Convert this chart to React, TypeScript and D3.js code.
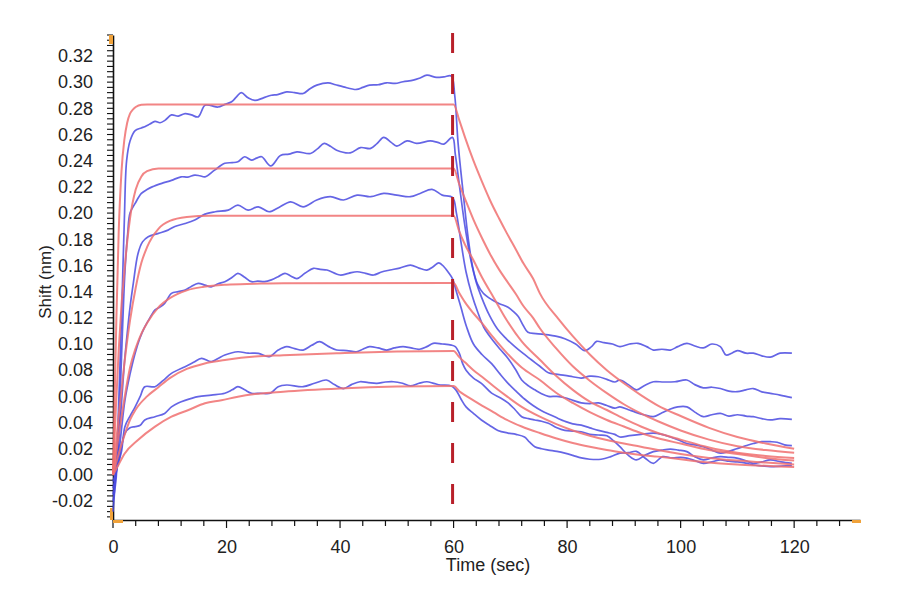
import React, {FC, useEffect, useRef} from 'react';
import * as d3 from 'd3';

type Pt = [number, number];

const blue1: Pt[] = [
  [0, -0.028], [0.4, -0.005], [0.8, 0.03], [1.2, 0.08], [1.6, 0.135], [2.0, 0.195], [2.4, 0.24], [3, 0.255],
  [3.9, 0.263], [5, 0.265], [5.6, 0.266], [6.5, 0.268], [7.4, 0.27], [8.3, 0.269], [9.2, 0.271], [10.3, 0.275],
  [11.5, 0.274], [12.7, 0.276], [13.8, 0.275], [15, 0.2735], [16.2, 0.2824], [17.3, 0.282], [18.5, 0.281],
  [19.7, 0.283], [20.9, 0.285], [21.8, 0.289], [22.6, 0.292], [23.8, 0.288], [25, 0.286], [26.5, 0.288],
  [27.9, 0.29], [29, 0.2905], [30.6, 0.2926], [32, 0.292], [33.5, 0.2913], [34.7, 0.295], [35.9, 0.2977],
  [37.9, 0.2995], [39.2, 0.298], [40.6, 0.2964], [42.9, 0.2944], [44, 0.296], [45.2, 0.2977], [46.7, 0.298],
  [48.2, 0.2995], [49.7, 0.299], [51.1, 0.3003], [52.9, 0.3015], [54, 0.303], [55.3, 0.3053], [57, 0.3036],
  [58.3, 0.304], [59.6, 0.3046],
  [60.2, 0.29], [60.8, 0.253], [61.7, 0.215], [62.6, 0.18], [63.4, 0.158], [64.2, 0.146], [65.2, 0.139],
  [66.7, 0.134], [68, 0.131], [69.6, 0.128], [70.5, 0.125], [71.4, 0.121], [72.3, 0.114], [73.1, 0.109],
  [74.5, 0.108], [76.7, 0.107], [78, 0.106], [79.6, 0.104], [81.5, 0.1], [83.1, 0.095], [84.3, 0.098],
  [85.2, 0.102], [86.5, 0.101], [88, 0.1], [89.3, 0.098], [91, 0.1], [92.5, 0.1005], [94, 0.098],
  [95.2, 0.0954], [96.7, 0.096], [98.2, 0.0954], [99.5, 0.098], [101.1, 0.1005], [102.5, 0.0985], [104, 0.097],
  [105.5, 0.1], [107, 0.098], [108, 0.0916], [109, 0.093], [110, 0.095], [111.5, 0.093], [112.8, 0.093],
  [114.3, 0.091], [115.8, 0.09], [117.5, 0.093], [119.6, 0.093],
];

const blue2: Pt[] = [
  [0, -0.02], [0.5, -0.005], [1, 0.03], [1.5, 0.09], [2.1, 0.155], [2.6, 0.185], [3, 0.2], [3.9, 0.2074],
  [5, 0.215], [6, 0.218], [6.9, 0.22], [8.6, 0.2227], [10.3, 0.225], [12, 0.2277], [13.2, 0.2275],
  [14.4, 0.229], [15.3, 0.2285], [16.2, 0.2277], [17.9, 0.2328], [19.7, 0.238], [21, 0.2385], [22, 0.2392],
  [23.2, 0.243], [24.4, 0.2405], [25.3, 0.242], [26.2, 0.243], [27.8, 0.236], [29.5, 0.244], [31, 0.245],
  [32.4, 0.2468], [34.8, 0.2455], [36, 0.249], [37.2, 0.2532], [38.3, 0.251], [39.4, 0.248], [41.8, 0.246],
  [43.6, 0.25], [45.4, 0.2494], [46.5, 0.253], [47.7, 0.2578], [49, 0.254], [50, 0.2511], [51.8, 0.2552],
  [53.5, 0.2532], [55.9, 0.2552], [57.2, 0.254], [58.3, 0.2527], [59.8, 0.2578],
  [60.3, 0.245], [61, 0.222], [62, 0.19], [63, 0.165], [64, 0.147], [64.9, 0.136], [66.3, 0.122],
  [67.8, 0.111], [69.3, 0.104], [70.8, 0.098], [72.2, 0.093], [73.7, 0.088], [75.2, 0.083], [76.7, 0.078],
  [78, 0.077], [79.6, 0.076], [81, 0.075], [82.5, 0.074], [84, 0.0755], [85.5, 0.075], [87, 0.073],
  [88.4, 0.071], [89.3, 0.0725], [90.8, 0.069], [92.2, 0.065], [93.5, 0.068], [95.2, 0.0712], [97, 0.071],
  [99, 0.0712], [101.1, 0.0725], [102.5, 0.069], [104, 0.0665], [105.5, 0.067], [107, 0.066], [108.5, 0.064],
  [110, 0.0636], [111.5, 0.065], [112.8, 0.066], [114.3, 0.0635], [115.8, 0.0623], [117.5, 0.061],
  [119.6, 0.059],
];

const blue3: Pt[] = [
  [0, -0.015], [0.5, 0.0], [1, 0.025], [1.5, 0.055], [2, 0.085], [2.5, 0.108], [3, 0.128], [3.6, 0.147],
  [4.4, 0.169], [5.2, 0.178], [6.2, 0.182], [8, 0.1845], [9.7, 0.187], [10.9, 0.1898], [12.7, 0.192],
  [14.4, 0.1947], [16.2, 0.1992], [18, 0.201], [20.3, 0.2023], [22, 0.206], [23.8, 0.2023], [25.6, 0.2048],
  [27.5, 0.201], [29.3, 0.2045], [31.3, 0.2086], [33.5, 0.2048], [35.9, 0.21], [38.3, 0.2125], [40.6, 0.21],
  [43, 0.2137], [45.4, 0.2125], [47.7, 0.215], [50, 0.2137], [52.4, 0.2125], [54.1, 0.215], [56.2, 0.2181],
  [58, 0.2137], [59.8, 0.212],
  [60.5, 0.2], [61.3, 0.178], [62.2, 0.155], [63.2, 0.138], [64.2, 0.125], [65.3, 0.113], [66.7, 0.104],
  [68.2, 0.096], [69.6, 0.089], [71, 0.08], [72, 0.0725], [73.2, 0.068], [74.3, 0.065], [75.5, 0.062],
  [76.7, 0.06], [78.2, 0.06], [79.6, 0.059], [81, 0.057], [82.5, 0.055], [84, 0.0545], [85.5, 0.055],
  [87, 0.053], [88.4, 0.051], [89.3, 0.052], [90.7, 0.05], [92, 0.048], [93.5, 0.046], [95.2, 0.0445],
  [96.5, 0.047], [98, 0.05], [99.5, 0.052], [101.1, 0.052], [102.5, 0.048], [104, 0.0445], [105.5, 0.046],
  [107, 0.047], [108.5, 0.045], [110, 0.046], [111.5, 0.045], [112.8, 0.0445], [114.3, 0.043], [115.8, 0.042],
  [117.5, 0.043], [119.6, 0.0425],
];

const blue4: Pt[] = [
  [0, -0.01], [0.5, 0.0], [1, 0.015], [1.5, 0.035], [2.1, 0.057], [3, 0.077], [3.9, 0.093], [4.7, 0.104],
  [5.6, 0.113], [6.5, 0.12], [7.4, 0.126], [8.2, 0.128], [9.1, 0.131], [10.3, 0.1387], [11.5, 0.14],
  [12.7, 0.1412], [13.8, 0.144], [15, 0.1463], [16.2, 0.145], [17.3, 0.1437], [18.5, 0.146], [19.7, 0.1476],
  [21, 0.151], [22, 0.154], [23.2, 0.151], [24.4, 0.1476], [25.5, 0.148], [26.7, 0.1476], [27.9, 0.149],
  [29.1, 0.1514], [30.3, 0.154], [31.3, 0.152], [32.4, 0.15], [33.8, 0.154], [35.3, 0.1578], [36.5, 0.157],
  [37.7, 0.1565], [40, 0.1527], [41.5, 0.154], [43, 0.1552], [44.5, 0.154], [45.9, 0.1527], [47.3, 0.155],
  [48.8, 0.1565], [50.5, 0.158], [52.4, 0.1603], [53.9, 0.158], [55.3, 0.1565], [56.4, 0.159], [57.4, 0.162],
  [58.3, 0.159], [59.2, 0.154], [59.8, 0.15],
  [60.5, 0.14], [61.3, 0.128], [62.3, 0.113], [63.5, 0.1], [65, 0.092], [66.7, 0.085], [68.2, 0.077],
  [69.6, 0.07], [71, 0.064], [72.5, 0.058], [74, 0.053], [75.5, 0.049], [77, 0.046], [78.5, 0.043],
  [79.6, 0.041], [81, 0.039], [82.5, 0.038], [84, 0.036], [85.5, 0.034], [87, 0.0325], [88.4, 0.031],
  [89.3, 0.029], [91, 0.03], [93, 0.031], [95.2, 0.032], [96.7, 0.031], [98.2, 0.029], [99.5, 0.027],
  [101.1, 0.024], [102.5, 0.023], [104, 0.0215], [105.5, 0.019], [107, 0.0167], [108.5, 0.018], [109.9, 0.02],
  [111.3, 0.022], [112.8, 0.024], [114.3, 0.0254], [115.8, 0.0254], [117, 0.025], [118.3, 0.023],
  [119.6, 0.0224],
];

const blue5: Pt[] = [
  [0, -0.005], [0.5, 0.002], [1, 0.01], [1.5, 0.018], [2.1, 0.0369], [3, 0.045], [3.9, 0.052], [4.8, 0.06],
  [5.6, 0.0674], [7.4, 0.0674], [8.8, 0.072], [10.3, 0.0776], [12.7, 0.0827], [14.2, 0.086], [15.6, 0.089],
  [17.3, 0.0865], [18.5, 0.089], [19.7, 0.0916], [22, 0.0941], [23.8, 0.093], [25.6, 0.0929], [27.5, 0.0903],
  [29.1, 0.0954], [30.6, 0.098], [32, 0.0965], [33.5, 0.0954], [35, 0.099], [36.4, 0.1018], [38, 0.098],
  [39.4, 0.0954], [41.2, 0.095], [42.9, 0.0941], [44, 0.096], [45.2, 0.098], [46.7, 0.097], [48.2, 0.0954],
  [49.6, 0.097], [51.1, 0.098], [52.5, 0.097], [54, 0.096], [55.3, 0.098], [56.4, 0.1005], [58, 0.1],
  [59.6, 0.0992],
  [60.3, 0.098], [61, 0.093], [61.6, 0.085], [62.2, 0.08], [63.5, 0.074], [64.9, 0.07], [66.7, 0.0625],
  [68.2, 0.059], [69.6, 0.055], [70.8, 0.05], [72, 0.0445], [73.2, 0.043], [74.3, 0.042], [75.5, 0.041],
  [76.7, 0.0395], [78.2, 0.036], [79.6, 0.034], [81, 0.0335], [82.5, 0.033], [84, 0.031], [85.5, 0.0305],
  [87, 0.03], [88.2, 0.026], [89.3, 0.0216], [90.8, 0.015], [92.2, 0.0115], [93.7, 0.015], [95.2, 0.0178],
  [96.7, 0.019], [98.2, 0.0198], [99.6, 0.019], [101.1, 0.0178], [102.5, 0.014], [104, 0.0115], [105.5, 0.013],
  [107, 0.014], [108.5, 0.0135], [109.9, 0.0128], [111.4, 0.011], [112.8, 0.0089], [114.3, 0.01],
  [115.8, 0.0115], [117.7, 0.01], [119.6, 0.0089],
];

const blue6: Pt[] = [
  [0, 0.0], [0.5, 0.004], [1, 0.01], [1.5, 0.0216], [2.1, 0.0318], [3, 0.036], [3.9, 0.0369], [4.8, 0.038],
  [5.6, 0.042], [7.4, 0.0445], [9.1, 0.047], [10.3, 0.052], [11.5, 0.055], [12.7, 0.057], [15, 0.0598],
  [17.3, 0.061], [19.7, 0.0624], [21, 0.065], [22, 0.0674], [23.2, 0.065], [24.4, 0.0624], [26, 0.0624],
  [27.7, 0.0624], [29.1, 0.0674], [30.6, 0.0687], [33.5, 0.0674], [35.5, 0.07], [37.6, 0.0725], [39, 0.069],
  [40.6, 0.066], [42, 0.069], [43.5, 0.0712], [45, 0.0705], [46.5, 0.07], [48, 0.071], [49.4, 0.0712],
  [51, 0.07], [52.4, 0.068], [53.9, 0.07], [55.3, 0.0712], [56.5, 0.07], [57.7, 0.0687], [59.6, 0.068],
  [60.4, 0.065], [61.3, 0.058], [62.2, 0.052], [63.5, 0.047], [64.9, 0.042], [66.3, 0.038], [67.8, 0.034],
  [69.6, 0.032], [71, 0.031], [72.5, 0.029], [73.4, 0.025], [74.3, 0.0216], [75.5, 0.02], [76.7, 0.019],
  [78.2, 0.018], [79.6, 0.0167], [81, 0.015], [82.5, 0.013], [84, 0.012], [86, 0.012], [87.7, 0.014],
  [89.3, 0.0167], [90.8, 0.017], [92.2, 0.018], [93.7, 0.013], [95.2, 0.0089], [96.8, 0.014], [98.5, 0.013],
  [100, 0.0135], [101.1, 0.0128], [102.5, 0.011], [104, 0.0089], [105.5, 0.01], [107, 0.0115], [108.5, 0.0105],
  [110, 0.01], [111.5, 0.009], [112.8, 0.0076], [114.3, 0.007], [115.8, 0.0064], [117.7, 0.0068],
  [119.6, 0.0072],
];

// fitted curves
const red1: Pt[] = [
  [0, 0], [0.3, 0.06], [0.6, 0.12], [1, 0.185], [1.5, 0.232], [2, 0.256], [2.5, 0.269], [3, 0.276],
  [3.5, 0.279], [4, 0.281], [5, 0.2828], [6, 0.283], [60, 0.283],
  [61, 0.271], [62, 0.258], [63.5, 0.24], [65, 0.224], [66.4, 0.21], [68, 0.196], [69.4, 0.1845], [71, 0.172],
  [72.3, 0.1616], [74, 0.15], [75.2, 0.1387], [78.5, 0.119], [81, 0.106], [84, 0.092], [87, 0.08], [90, 0.07],
  [93, 0.061], [96, 0.053], [100, 0.045], [105, 0.036], [110, 0.029], [115, 0.024], [120, 0.02],
];
const red2: Pt[] = [
  [0, 0], [0.5, 0.05], [1, 0.095], [1.5, 0.13], [2, 0.155], [2.5, 0.178], [3, 0.196], [4, 0.218], [5, 0.228],
  [6, 0.232], [8, 0.234], [60, 0.234],
  [61, 0.222], [62, 0.211], [63.5, 0.195], [65, 0.181], [66.4, 0.169], [68, 0.157], [69.4, 0.148], [71, 0.138],
  [72.3, 0.129], [74, 0.12], [75.2, 0.112], [78, 0.097], [81, 0.083], [84, 0.072], [87, 0.0625], [90, 0.054],
  [93, 0.047], [96, 0.041], [100, 0.034], [105, 0.027], [110, 0.022], [115, 0.019], [120, 0.017],
];
const red3: Pt[] = [
  [0, 0], [1, 0.045], [2, 0.085], [3, 0.118], [4, 0.143], [5, 0.162], [6, 0.174], [8, 0.188], [10, 0.194],
  [13, 0.197], [17, 0.198], [60, 0.198],
  [61, 0.186], [62, 0.176], [63.5, 0.164], [65, 0.151], [67, 0.136], [69.4, 0.118], [72, 0.102], [75.2, 0.088],
  [78, 0.076], [81, 0.065], [84, 0.056], [87, 0.0496], [90, 0.043], [93, 0.037], [96, 0.032], [100, 0.027],
  [105, 0.021], [110, 0.017], [115, 0.0145], [120, 0.013],
];
const red4: Pt[] = [
  [0, 0], [1, 0.03], [2, 0.058], [3, 0.082], [4, 0.097], [5, 0.108], [6, 0.116], [8, 0.128], [10, 0.135],
  [13, 0.141], [16, 0.1437], [20, 0.1453], [25, 0.146], [30, 0.1465], [60, 0.1466],
  [61, 0.139], [62, 0.132], [63.5, 0.1235], [65, 0.116], [67, 0.105], [69.4, 0.093], [72, 0.082],
  [75.2, 0.0725], [78, 0.063], [81, 0.055], [84, 0.048], [87, 0.042], [90, 0.037], [93, 0.032], [96, 0.028],
  [100, 0.024], [105, 0.019], [110, 0.016], [115, 0.013], [120, 0.011],
];
const red5: Pt[] = [
  [0, 0], [1, 0.016], [2, 0.03], [3, 0.042], [4, 0.05], [6, 0.06], [8, 0.067], [10, 0.074], [13, 0.081],
  [16, 0.085], [20, 0.088], [25, 0.0905], [30, 0.0915], [40, 0.093], [50, 0.0942], [60, 0.0947],
  [61, 0.09], [62, 0.086], [63.5, 0.08], [65, 0.075], [67, 0.068], [69.4, 0.06], [72, 0.052], [75.2, 0.0445],
  [78, 0.039], [81, 0.034], [84, 0.03], [87, 0.0267], [90, 0.024], [93, 0.0216], [96, 0.019], [100, 0.016],
  [105, 0.013], [110, 0.011], [115, 0.0095], [120, 0.008],
];
const red6: Pt[] = [
  [0, 0], [0.5, 0.004], [1, 0.008], [2, 0.016], [4.4, 0.0267], [7.4, 0.0369], [10.3, 0.0445], [13.3, 0.0496],
  [16.2, 0.0547], [19.1, 0.057], [22, 0.0598], [25, 0.0618], [30, 0.0636], [40, 0.066], [50, 0.0675],
  [60, 0.068],
  [61, 0.064], [62, 0.061], [63.5, 0.057], [65, 0.053], [67, 0.048], [69.4, 0.042], [72, 0.037], [75.2, 0.032],
  [78, 0.028], [81, 0.0244], [84, 0.0215], [87, 0.019], [90, 0.017], [93, 0.0153], [96, 0.014], [100, 0.012],
  [105, 0.0095], [110, 0.008], [115, 0.007], [120, 0.006],
];

const blueSeries = [blue1, blue2, blue3, blue4, blue5, blue6];
const redSeries = [red1, red2, red3, red4, red5, red6];

const xMajor = [0, 20, 40, 60, 80, 100, 120];
const yMajor = [-0.02, 0, 0.02, 0.04, 0.06, 0.08, 0.1, 0.12, 0.14, 0.16, 0.18, 0.2, 0.22, 0.24, 0.26, 0.28, 0.3, 0.32];
const stepTime = 60;

const W = 900;
const H = 600;

const Sensorgram: FC = () => {
  const ref = useRef<SVGSVGElement>(null);

  // plot box in page pixels
  const left = 113, right = 860, top = 35, bottom = 520;

  useEffect(() => {
    const svg = d3.select(ref.current);
    svg.selectAll('*').remove();

    const x = d3.scaleLinear().domain([0, 131.6]).range([left, right]);
    const y = d3.scaleLinear().domain([-0.0344, 0.336]).range([bottom, top]);

    const font = '"Liberation Sans", Arial, sans-serif';

    // minor ticks
    const xMinor = d3.range(0, 129, 4);
    const yMinor = d3.range(-0.032, 0.3361, 0.004);

    const g = svg.append('g');
    g.selectAll('.xminor')
      .data(xMinor)
      .enter()
      .append('line')
      .attr('x1', d => x(d))
      .attr('x2', d => x(d))
      .attr('y1', bottom)
      .attr('y2', d => bottom + (d % 20 === 0 ? 8 : 6))
      .attr('stroke', '#111')
      .attr('stroke-width', 1.2);
    g.selectAll('.yminor')
      .data(yMinor)
      .enter()
      .append('line')
      .attr('x1', left - 6)
      .attr('x2', left)
      .attr('y1', d => y(d))
      .attr('y2', d => y(d))
      .attr('stroke', '#111')
      .attr('stroke-width', 1.1);

    // axis lines + labels
    const xAxis = d3
      .axisBottom(x)
      .tickValues(xMajor)
      .tickSize(0)
      .tickSizeOuter(0)
      .tickPadding(20)
      .tickFormat(d => String(d));
    const xg = svg.append('g').attr('transform', `translate(0, ${bottom})`).call(xAxis);
    xg.select('.domain').attr('stroke', '#111').attr('stroke-width', 1.6);
    xg.selectAll('text').attr('font-family', font).attr('font-size', 18).attr('fill', '#222');

    const yAxis = d3
      .axisLeft(y)
      .tickValues(yMajor)
      .tickSize(0)
      .tickSizeOuter(0)
      .tickPadding(20)
      .tickFormat(d => (+d).toFixed(2));
    const yg = svg.append('g').attr('transform', `translate(${left}, 0)`).call(yAxis);
    yg.select('.domain').attr('stroke', '#111').attr('stroke-width', 1.6);
    yg.selectAll('text').attr('font-family', font).attr('font-size', 18).attr('fill', '#222');

    // the orange end markers of the axes
    const orange = '#f0a23a';
    svg.append('rect').attr('x', left - 4).attr('y', top).attr('width', 4).attr('height', 9).attr('fill', orange);
    svg.append('rect').attr('x', left - 3).attr('y', bottom - 12).attr('width', 3).attr('height', 12).attr('fill', orange);
    svg.append('rect').attr('x', left).attr('y', bottom).attr('width', 10).attr('height', 3).attr('fill', orange);
    svg.append('rect').attr('x', right - 8).attr('y', bottom).attr('width', 9).attr('height', 3).attr('fill', orange);

    // axis titles
    svg
      .append('text')
      .attr('x', 488)
      .attr('y', 571)
      .attr('text-anchor', 'middle')
      .attr('font-family', font)
      .attr('font-size', 18)
      .attr('fill', '#222')
      .text('Time (sec)');
    svg
      .append('text')
      .attr('transform', `translate(51, 282) rotate(-90)`)
      .attr('text-anchor', 'middle')
      .attr('font-family', font)
      .attr('font-size', 17)
      .attr('fill', '#222')
      .text('Shift (nm)');

    // curves
    const blueLine = d3
      .line<Pt>()
      .x(d => x(d[0]))
      .y(d => y(d[1]))
      .curve(d3.curveCatmullRom.alpha(0.5));
    const redLine = d3
      .line<Pt>()
      .x(d => x(d[0]))
      .y(d => y(d[1]))
      .curve(d3.curveMonotoneX);

    svg
      .append('g')
      .selectAll('path')
      .data(blueSeries)
      .enter()
      .append('path')
      .attr('d', d => blueLine(d))
      .attr('fill', 'none')
      .attr('stroke', '#4a4ae0')
      .attr('stroke-opacity', 0.85)
      .attr('stroke-width', 1.7);

    svg
      .append('g')
      .selectAll('path')
      .data(redSeries)
      .enter()
      .append('path')
      .attr('d', d => redLine(d))
      .attr('fill', 'none')
      .attr('stroke', '#f07070')
      .attr('stroke-opacity', 0.85)
      .attr('stroke-width', 2);

    // start of dissociation
    svg
      .append('line')
      .attr('x1', x(stepTime) - 1)
      .attr('x2', x(stepTime) - 1)
      .attr('y1', 33)
      .attr('y2', 506)
      .attr('stroke', '#b8202a')
      .attr('stroke-width', 3)
      .attr('stroke-dasharray', '20 21');
  }, []);

  return (
    <svg
      ref={ref}
      width={W}
      height={H}
      style={{position: 'absolute', left: 0, top: 0, background: '#fff'}}
    />
  );
};

export default function App() {
  return <Sensorgram />;
}
